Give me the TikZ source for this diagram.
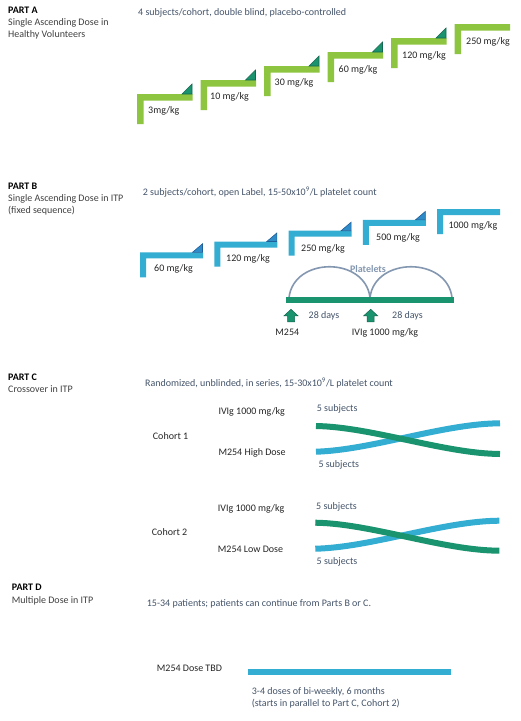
\documentclass[tikz,border=0pt]{standalone}
\usepackage{fontspec}
\setmainfont{Carlito}
\definecolor{lgreen}{HTML}{8DC540}
\definecolor{cblue}{HTML}{33ADD1}
\definecolor{dgreen}{HTML}{1A936F}
\definecolor{dgreenedge}{HTML}{13684F}
\definecolor{tblue}{HTML}{2E8BC8}
\definecolor{tblueedge}{HTML}{1F5F9A}
\definecolor{arccol}{HTML}{8497B0}
\definecolor{desccol}{HTML}{44546A}
\definecolor{subcol}{HTML}{404040}
\newcommand{\mystep}[6]{\fill[#6] (#1,#2) -- ({#1+#3},#2) -- ({#1+#3},{#2+#5}) -- ({#1+#5},{#2+#5}) -- ({#1+#5},{#2+#4}) -- (#1,{#2+#4}) -- cycle;}
\newcommand{\mytri}[5]{\filldraw[fill=#4,draw=#5,line width=0.6pt] ({#1-10},#2) -- (#1,#2) -- (#1,{#2-#3}) -- cycle;}
\newcommand{\myuparrow}[2]{\filldraw[fill=dgreen,draw=dgreenedge,line width=0.5pt] (#1,#2) -- ({#1+7},{#2+6.5}) -- ({#1+3.5},{#2+6.5}) -- ({#1+3.5},{#2+12.5}) -- ({#1-3.5},{#2+12.5}) -- ({#1-3.5},{#2+6.5}) -- ({#1-7},{#2+6.5}) -- cycle;}
\begin{document}
\begin{tikzpicture}[x=1pt,y=-1pt,
  txt/.style={anchor=west,inner sep=0pt,font=\fontsize{10}{11}\selectfont,text height=7pt,text depth=2.2pt},
  head/.style={txt,font=\fontsize{10}{11}\selectfont\bfseries,text=black},
  sub/.style={txt,text=subcol},
  desc/.style={txt,text=desccol},
  lbl/.style={txt,text=black!85},
  mid/.style={anchor=center},
  band/.style={line width=6pt}]
\useasboundingbox (0,0) rectangle (520,721);
\fill[white] (0,0) rectangle (520,721);

% ---------------- PART A ----------------
\node[head] (pa) at (8,11) {PART A};
\node[sub] (pa1) at (8,23.5) {Single Ascending Dose in};
\node[sub] (pa2) at (8,35.5) {Healthy Volunteers};
\node[desc] (pad) at (138,13) {4 subjects/cohort, double blind, placebo-controlled};

\mystep{137}{94}{55.5}{30}{6.5}{lgreen}
\mystep{200.5}{80}{55.5}{30}{6.5}{lgreen}
\mystep{264}{66}{55.5}{30}{6.5}{lgreen}
\mystep{327.5}{52}{55.5}{30}{6.5}{lgreen}
\mystep{391}{38}{55.5}{30}{6.5}{lgreen}
\mystep{454.5}{24}{55.5}{30}{6.5}{lgreen}
\mytri{192}{94}{10}{dgreen}{dgreenedge}
\mytri{255.5}{80}{10}{dgreen}{dgreenedge}
\mytri{319}{66}{10}{dgreen}{dgreenedge}
\mytri{382.5}{52}{10}{dgreen}{dgreenedge}
\mytri{446}{38}{10}{dgreen}{dgreenedge}
\node[lbl] (a1) at (148,111) {3mg/kg};
\node[lbl] (a2) at (210,97) {10 mg/kg};
\node[lbl] (a3) at (274.5,83) {30 mg/kg};
\node[lbl] (a4) at (338.5,70) {60 mg/kg};
\node[lbl] (a5) at (402,56) {120 mg/kg};
\node[lbl] (a6) at (466,42) {250 mg/kg};

% ---------------- PART B ----------------
\node[head] (pb) at (8,186.7) {PART B};
\node[sub] (pb1) at (8,198.7) {Single Ascending Dose in ITP};
\node[sub] (pb2) at (8,211.2) {(fixed sequence)};
\node[desc] (pbd) at (142.7,192.7) {2 subjects/cohort, open Label, 15-50x10\textsuperscript{9}/L platelet count};

\mystep{140}{252.3}{63}{25}{6}{cblue}
\mystep{214.3}{241.5}{63}{25}{6}{cblue}
\mystep{288.6}{230.7}{63}{25}{6}{cblue}
\mystep{362.9}{219.9}{63}{25}{6}{cblue}
\mystep{437.2}{209.1}{63}{25}{6}{cblue}
\mytri{202.5}{252.3}{8.5}{tblue}{tblueedge}
\mytri{276.8}{241.5}{8.5}{tblue}{tblueedge}
\mytri{351.1}{230.7}{8.5}{tblue}{tblueedge}
\mytri{425.4}{219.9}{8.5}{tblue}{tblueedge}
\node[lbl] (b1) at (154,269.3) {60 mg/kg};
\node[lbl] (b2) at (226,259.5) {120 mg/kg};
\node[lbl] (b3) at (301,249.3) {250 mg/kg};
\node[lbl] (b4) at (376,238.5) {500 mg/kg};
\node[lbl] (b5) at (448.3,226.5) {1000 mg/kg};

% platelets arcs and timeline
\draw[arccol,line width=1.6pt] (289,297.5) .. controls (294,256.5) and (365,256.5) .. (370,297.5);
\draw[arccol,line width=1.6pt] (370,297.5) .. controls (375,256.5) and (447,256.5) .. (452,297.5);
\fill[dgreen] (286,297.3) rectangle (454,303.3);
\node[txt,mid,text=arccol,font=\fontsize{10}{11}\selectfont\bfseries] (plt) at (368,270.5) {Platelets};
\myuparrow{291}{309.3}
\myuparrow{370.7}{309.3}
\node[desc,mid] (d1) at (324,316.5) {28 days};
\node[desc,mid] (d2) at (407.5,316.5) {28 days};
\node[lbl,mid] (m1) at (287.3,333.5) {M254};
\node[lbl,mid] (m2) at (385,333.5) {IVIg 1000 mg/kg};

% ---------------- PART C ----------------
\node[head] (pc) at (8,378.3) {PART C};
\node[sub] (pc1) at (8,390) {Crossover in ITP};
\node[desc] (pcd) at (145,384) {Randomized, unblinded, in series, 15-30x10\textsuperscript{9}/L platelet count};

\node[lbl] (c1a) at (218.3,412.3) {IVIg 1000 mg/kg};
\node[lbl] (c1) at (152.7,437.3) {Cohort 1};
\node[lbl] (c1b) at (218.3,453) {M254 High Dose};
\node[desc] (s1) at (316.7,409.3) {5 subjects};
\node[desc] (s2) at (318.3,465) {5 subjects};
\draw[cblue,band] (316,451.7) .. controls (372,450) and (444,423.5) .. (500,423.3);
\draw[dgreen,band] (316,426) .. controls (372,427) and (444,453.5) .. (500,454);

\node[lbl] (c2a) at (217.7,509.3) {IVIg 1000 mg/kg};
\node[lbl] (c2) at (151.7,533.3) {Cohort 2};
\node[lbl] (c2b) at (217.7,550) {M254 Low Dose};
\node[desc] (s3) at (316,506.7) {5 subjects};
\node[desc] (s4) at (316.5,561.7) {5 subjects};
\draw[cblue,band] (315.3,548.7) .. controls (371,547.5) and (443,521) .. (499.3,520.7);
\draw[dgreen,band] (315.3,522.7) .. controls (371,523.5) and (443,550.5) .. (499.3,550.7);

% ---------------- PART D ----------------
\node[head] (pd) at (11.7,588.3) {PART D};
\node[sub] (pd1) at (11.7,600.7) {Multiple Dose in ITP};
\node[desc] (pdd) at (146.7,604) {15-34 patients; patients can continue from Parts B or C.};
\node[lbl] (dd) at (156.7,669) {M254 Dose TBD};
\fill[cblue] (248.3,669) rectangle (450.7,675);
\node[desc] (dn1) at (251.7,691.7) {3-4 doses of bi-weekly, 6 months};
\node[desc] (dn2) at (251.7,704) {(starts in parallel to Part C, Cohort 2)};
\end{tikzpicture}
\end{document}
